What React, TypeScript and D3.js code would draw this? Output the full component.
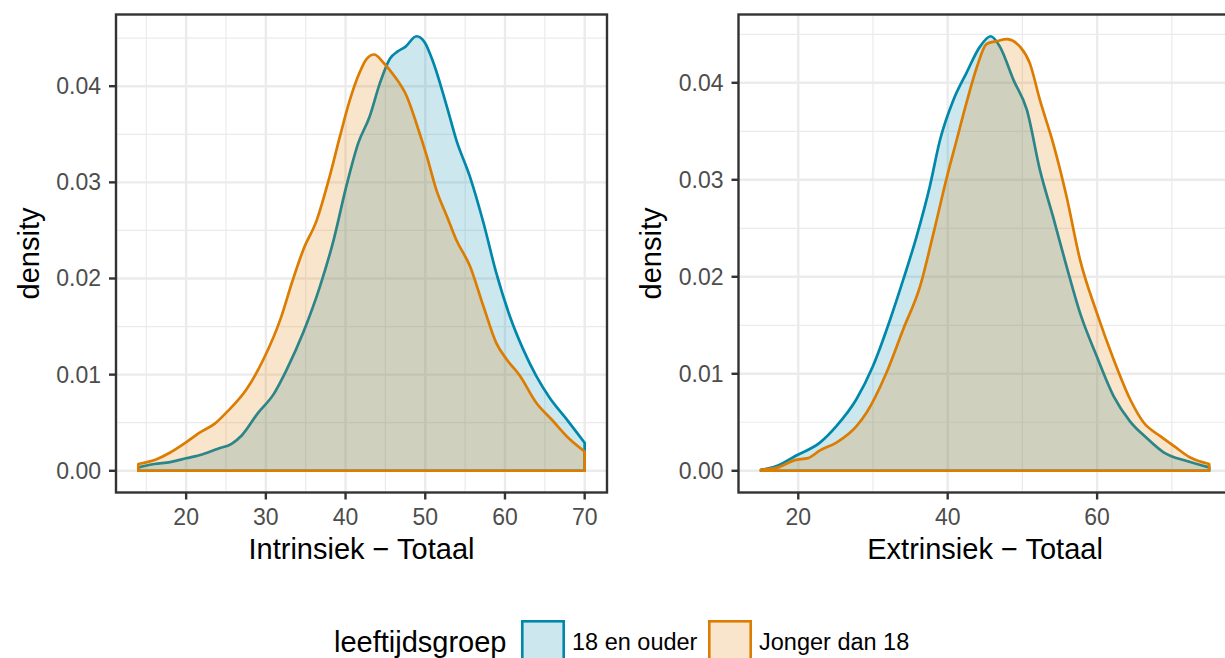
import React from "react";
import * as d3 from "d3";

// ---- data ----
const groups = ["18 en ouder", "Jonger dan 18"];
const legendTitle = "leeftijdsgroep";

const intrAdultX = [14, 16, 18, 20, 22, 24, 25.7, 27, 29, 31, 32.6, 34.7, 36.8, 38.5, 40.1, 41.6, 43, 44.3, 45.6, 46.5, 47.5, 48.9, 49.9, 51, 52.7, 53.9, 55.6, 57.3, 58.9, 60.6, 62.3, 63.9, 65.6, 67.6, 70];
const intrAdultY = [0.00035, 0.0007, 0.0009, 0.0013, 0.0017, 0.0023, 0.0028, 0.0037, 0.006, 0.008, 0.0105, 0.0144, 0.0192, 0.024, 0.0296, 0.0341, 0.0368, 0.0403, 0.0429, 0.0436, 0.0441, 0.0452, 0.0446, 0.0425, 0.0379, 0.0344, 0.0306, 0.0258, 0.0206, 0.0161, 0.0126, 0.0099, 0.0076, 0.0055, 0.0029];
const intrYoungX = [14, 16.3, 18, 19.7, 21.75, 23.6, 25.1, 27.6, 29.7, 31.8, 33.4, 34.7, 36.4, 38, 39.3, 40.55, 41.8, 42.6, 43.6, 44.7, 46, 47.7, 48.9, 50.2, 51.4, 52.7, 53.9, 55.6, 57.3, 58.9, 60.2, 61.85, 63.9, 66, 68.1, 70];
const intrYoungY = [0.0007, 0.0012, 0.0019, 0.0028, 0.004, 0.0049, 0.0061, 0.0085, 0.0116, 0.0157, 0.0199, 0.023, 0.0261, 0.0306, 0.0348, 0.0386, 0.0415, 0.0428, 0.0433, 0.0425, 0.0412, 0.0389, 0.0361, 0.0327, 0.0292, 0.0265, 0.024, 0.0213, 0.0171, 0.0133, 0.0116, 0.0099, 0.0071, 0.0052, 0.0033, 0.002];

const extrAdultX = [15, 17.1, 19.8, 22.9, 25.1, 27.8, 30, 32.3, 34.05, 35.85, 37.6, 38.97, 40.75, 42.5, 44.3, 45.75, 47, 48.8, 50.6, 52.35, 54.1, 55.9, 57.7, 59.95, 62.2, 64.4, 66.6, 68.9, 72, 75];
const extrAdultY = [0.0001, 0.0005, 0.0016, 0.0029, 0.0046, 0.0074, 0.0108, 0.0156, 0.0197, 0.0242, 0.0293, 0.0341, 0.0382, 0.041, 0.0437, 0.0448, 0.0437, 0.0403, 0.0372, 0.031, 0.0262, 0.0211, 0.0163, 0.0118, 0.0077, 0.0051, 0.0034, 0.0019, 0.001, 0.00035];
const extrYoungX = [15, 17.3, 19.55, 21.3, 22.9, 25.1, 27.8, 29.15, 31.8, 34.05, 36.3, 38.1, 39.9, 41.2, 42.5, 43.9, 45.2, 46.6, 47.9, 49.7, 51, 52.35, 54.1, 55.9, 57.7, 59.95, 62.2, 64.4, 66.2, 68.4, 70.2, 72.4, 75];
const extrYoungY = [0.0001, 0.00035, 0.0011, 0.0013, 0.0021, 0.0029, 0.0046, 0.006, 0.0101, 0.0146, 0.019, 0.0245, 0.0303, 0.0341, 0.0379, 0.0416, 0.044, 0.0443, 0.0445, 0.0437, 0.042, 0.0382, 0.0338, 0.0283, 0.0218, 0.0163, 0.0115, 0.0074, 0.005, 0.0036, 0.0026, 0.0014, 0.0007];

const intrXTicks = [20, 30, 40, 50, 60, 70];
const intrXMinor = [15, 25, 35, 45, 55, 65];
const extrXTicks = [20, 40, 60];
const extrXMinor = [30, 50, 70];
const yTicks = [0, 0.01, 0.02, 0.03, 0.04];
const yMinor = [0.005, 0.015, 0.025, 0.035, 0.045];

// ---- style ----
const COLORS = ["#0088AA", "#DC7C00"];
const FONT = "'Liberation Sans', Arial, Helvetica, sans-serif";
const W = 1225;
const H = 658;
const TICK_FS = 23;
const TITLE_FS = 29;

type Series = { x: number[]; y: number[] };

function Panel(props: {
  left: number; right: number; top: number; bottom: number;
  series: Series[]; xTicks: number[]; xMinor: number[]; xTitle: string;
}) {
  const { left, right, top, bottom, series, xTicks, xMinor, xTitle } = props;
  const allX = series.flatMap((s) => s.x);
  const allY = series.flatMap((s) => s.y);
  const [xmin, xmax] = d3.extent(allX) as [number, number];
  const ymax = d3.max(allY) as number;
  const xpad = (xmax - xmin) * 0.05;
  const x = d3.scaleLinear().domain([xmin - xpad, xmax + xpad]).range([left, right]);
  const y = d3.scaleLinear().domain([-ymax * 0.05, ymax * 1.05]).range([bottom, top]);
  const area = d3
    .area<[number, number]>()
    .x((d) => x(d[0]))
    .y0(y(0))
    .y1((d) => y(d[1]))
    .curve(d3.curveMonotoneX);
  const clipId = "clip" + Math.round(left);
  return (
    <g>
      <defs>
        <clipPath id={clipId}>
          <rect x={left} y={top} width={right - left} height={bottom - top} />
        </clipPath>
      </defs>
      <rect x={left} y={top} width={right - left} height={bottom - top} fill="#FFFFFF" />
      <g clipPath={`url(#${clipId})`}>
        {xMinor.map((t) => (
          <line key={"xm" + t} x1={x(t)} x2={x(t)} y1={top} y2={bottom} stroke="#EBEBEB" strokeWidth={1.2} />
        ))}
        {yMinor.map((t) => (
          <line key={"ym" + t} x1={left} x2={right} y1={y(t)} y2={y(t)} stroke="#EBEBEB" strokeWidth={1.2} />
        ))}
        {xTicks.map((t) => (
          <line key={"xM" + t} x1={x(t)} x2={x(t)} y1={top} y2={bottom} stroke="#EBEBEB" strokeWidth={2.4} />
        ))}
        {yTicks.map((t) => (
          <line key={"yM" + t} x1={left} x2={right} y1={y(t)} y2={y(t)} stroke="#EBEBEB" strokeWidth={2.4} />
        ))}
        {series.map((s, i) => {
          const pts = s.x.map((v, j) => [v, s.y[j]] as [number, number]);
          return (
            <path
              key={"s" + i}
              d={area(pts) || ""}
              fill={COLORS[i]}
              fillOpacity={0.2}
              stroke={COLORS[i]}
              strokeWidth={2.7}
              strokeLinejoin="round"
            />
          );
        })}
      </g>
      <rect x={left} y={top} width={right - left} height={bottom - top} fill="none" stroke="#333333" strokeWidth={2.4} />
      {xTicks.map((t) => (
        <g key={"xt" + t}>
          <line x1={x(t)} x2={x(t)} y1={bottom} y2={bottom + 7} stroke="#333333" strokeWidth={2.4} />
          <text x={x(t)} y={bottom + 32.5} textAnchor="middle" fontSize={TICK_FS} fill="#4D4D4D" fontFamily={FONT}>
            {t}
          </text>
        </g>
      ))}
      {yTicks.map((t) => (
        <g key={"yt" + t}>
          <line x1={left - 7} x2={left} y1={y(t)} y2={y(t)} stroke="#333333" strokeWidth={2.4} />
          <text x={left - 15} y={y(t) + 8} textAnchor="end" fontSize={TICK_FS} fill="#4D4D4D" fontFamily={FONT}>
            {t.toFixed(2)}
          </text>
        </g>
      ))}
      <text x={(left + right) / 2} y={bottom + 66} textAnchor="middle" fontSize={TITLE_FS} fill="#000" fontFamily={FONT}>
        {xTitle}
      </text>
      <text
        transform={`translate(${left - 77.5},${(top + bottom) / 2}) rotate(-90)`}
        textAnchor="middle"
        fontSize={TITLE_FS}
        fill="#000"
        fontFamily={FONT}
      >
        density
      </text>
    </g>
  );
}

export default function App() {
  const top = 14.5;
  const bottom = 492.5;
  const legendY = 620;
  const keySize = 44;
  return (
    <svg width={W} height={H} style={{ position: "absolute", left: 0, top: 0, background: "#fff" }}>
      <rect width={W} height={H} fill="#fff" />
      <Panel
        left={116}
        right={607}
        top={top}
        bottom={bottom}
        series={[{ x: intrAdultX, y: intrAdultY }, { x: intrYoungX, y: intrYoungY }]}
        xTicks={intrXTicks}
        xMinor={intrXMinor}
        xTitle="Intrinsiek − Totaal"
      />
      <Panel
        left={738.5}
        right={1231.6}
        top={top}
        bottom={bottom}
        series={[{ x: extrAdultX, y: extrAdultY }, { x: extrYoungX, y: extrYoungY }]}
        xTicks={extrXTicks}
        xMinor={extrXMinor}
        xTitle="Extrinsiek − Totaal"
      />
      <g>
        <text x={334} y={legendY + keySize / 2 + 10} fontSize={TITLE_FS} fill="#000" fontFamily={FONT}>
          {legendTitle}
        </text>
        {groups.map((g, i) => {
          const kx = i === 0 ? 521 : 708;
          return (
            <g key={g}>
              <rect x={kx} y={legendY} width={keySize} height={keySize} fill="#fff" />
              <rect
                x={kx + 1.3}
                y={legendY + 1.3}
                width={keySize - 2.6}
                height={keySize - 2.6}
                fill={COLORS[i]}
                fillOpacity={0.2}
                stroke={COLORS[i]}
                strokeWidth={2.6}
              />
              <text x={kx + keySize + 7} y={legendY + keySize / 2 + 8} fontSize={TICK_FS + 0.5} fill="#000" fontFamily={FONT}>
                {g}
              </text>
            </g>
          );
        })}
      </g>
    </svg>
  );
}
